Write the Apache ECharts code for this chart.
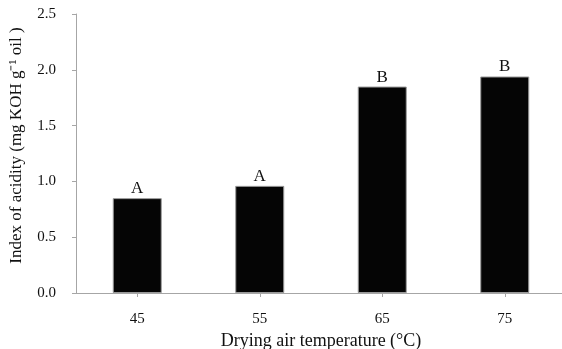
<!DOCTYPE html>
<html>
<head>
<meta charset="utf-8">
<script src="https://cdn.jsdelivr.net/npm/echarts@6/dist/echarts.min.js"></script>
<style>html,body{margin:0;padding:0;background:#fff}#c{width:562px;height:349px}</style>
</head>
<body>
<div id="c"></div>
<script>
const categories = ['45', '55', '65', '75'];
const values = [0.85, 0.96, 1.85, 1.94];
const letters = ['A', 'A', 'B', 'B'];
const yTicks = [0, 0.5, 1.0, 1.5, 2.0, 2.5];

const chart = echarts.init(document.getElementById('c'), null, {renderer: 'canvas'});
const serif = '"Liberation Serif", "Times New Roman", serif';
chart.setOption({
  animation: false,
  backgroundColor: '#fff',
  grid: {left: 76, top: 14, bottom: 56, width: 490, containLabel: false, outerBoundsMode: 'none'},
  xAxis: {
    type: 'category',
    data: categories,
    name: 'Drying air temperature (°C)',
    nameLocation: 'middle',
    nameGap: 34,
    nameTextStyle: {fontFamily: serif, fontSize: 18, color: '#111'},
    axisLine: {lineStyle: {color: '#a6a6a6', width: 1}},
    axisTick: {show: true, alignWithLabel: true, length: 4, lineStyle: {color: '#a6a6a6'}},
    axisLabel: {fontFamily: serif, fontSize: 15, color: '#111', margin: 19},
    splitLine: {show: false}
  },
  yAxis: {
    type: 'value',
    min: yTicks[0],
    max: yTicks[yTicks.length - 1],
    interval: 0.5,
    name: 'Index of acidity (mg KOH g⁻¹ oil )',
    nameLocation: 'middle',
    nameGap: 51,
    nameTextStyle: {fontFamily: serif, fontSize: 17, color: '#111', padding: [0, 0, 0, 16]},
    axisLine: {show: true, lineStyle: {color: '#a6a6a6', width: 1}},
    axisTick: {show: true, length: 4, lineStyle: {color: '#a6a6a6'}},
    axisLabel: {fontFamily: serif, fontSize: 15, color: '#111', margin: 20,
      formatter: v => v.toFixed(1)},
    splitLine: {show: false}
  },
  series: [{
    type: 'bar',
    data: values.map((v, i) => ({value: v, label: {formatter: letters[i]}})),
    barWidth: 49,
    itemStyle: {color: '#050505', borderColor: '#9a9a9a', borderWidth: 1},
    label: {show: true, position: 'top', distance: 1, fontFamily: serif, fontSize: 17, color: '#111'}
  }]
});
</script>
</body>
</html>
